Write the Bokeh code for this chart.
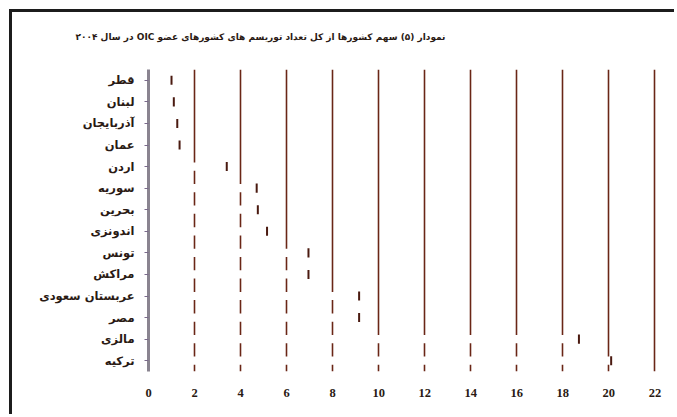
from bokeh.plotting import figure
from bokeh.models import ColumnDataSource, FixedTicker, LinearAxis
from bokeh.embed import file_html
from bokeh.resources import INLINE

countries = ["قطر", "لبنان", "آذربایجان", "عمان", "اردن", "سوریه", "بحرین",
             "اندونزی", "تونس", "مراکش", "عربستان سعودی", "مصر", "مالزی", "ترکیه"]
shares = [1.0, 1.1, 1.25, 1.35, 3.4, 4.7, 4.75, 5.15, 6.95, 6.95, 9.15, 9.15, 18.7, 20.1]
x_ticks = [0, 2, 4, 6, 8, 10, 12, 14, 16, 18, 20, 22]
title_text = "نمودار (۵) سهم کشورها از کل تعداد توریسم های کشورهای عضو OIC در سال ۲۰۰۴"

src = ColumnDataSource(dict(country=countries, share=shares))

p = figure(width=665, height=405, y_range=list(reversed(countries)), x_range=(0, 22.2),
           output_backend="svg", toolbar_location=None,
           min_border_left=136, min_border_right=18, min_border_top=57, min_border_bottom=46)
p.styles = {"margin-left": "9px", "margin-top": "9px",
            "border-top": "3px solid #1c1c1c", "border-left": "3px solid #1c1c1c"}

# a blank spacer axis above the frame, so the title sits near the top
spacer = LinearAxis(ticker=FixedTicker(ticks=[11], minor_ticks=[]), axis_line_color=None,
                    major_tick_out=28, major_tick_in=0, minor_tick_out=0, minor_tick_in=0,
                    major_tick_line_color=None, minor_tick_line_color=None,
                    major_label_standoff=11, major_label_text_font_size="1px",
                    major_label_overrides={11: ""})
p.add_layout(spacer, "above")

p.title.text = "\u202b" + title_text + "\u202c"
p.title.text_font = "DejaVu Sans"
p.title.text_font_size = "9px"
p.title.text_font_style = "bold"
p.title.text_color = "#2a1a14"
p.title.align = "left"
p.title.offset = -73
p.title.standoff = 0

p.outline_line_color = None
p.background_fill_color = "white"
p.border_fill_color = "white"

p.xgrid.ticker = FixedTicker(ticks=x_ticks)
p.xgrid.grid_line_color = "#6a2616"
p.xgrid.grid_line_width = 1.6
p.ygrid.grid_line_color = None

xa = p.below[0]
xa.ticker = FixedTicker(ticks=x_ticks)
xa.axis_line_color = None
xa.major_tick_line_color = None
xa.minor_tick_line_color = None
xa.major_label_standoff = 11
xa.major_label_text_font = "Liberation Serif"
xa.major_label_text_font_style = "bold"
xa.major_label_text_font_size = "12.5px"
xa.major_label_text_color = "#2a1a14"

p.yaxis.axis_line_color = "#8a8490"
p.yaxis.axis_line_width = 3
p.yaxis.major_tick_line_color = "#7a6a8a"
p.yaxis.major_tick_out = 4
p.yaxis.major_tick_in = 0
p.yaxis.major_label_standoff = 10
p.yaxis.major_label_text_font = "DejaVu Sans"
p.yaxis.major_label_text_font_style = "bold"
p.yaxis.major_label_text_font_size = "11.5px"
p.yaxis.major_label_text_color = "#2a1a14"

# white bars hiding the grid, with a dark edge at the bar end
p.hbar(y="country", right="share", left=0, height=0.38, source=src,
       fill_color="white", line_color=None)
p.rect(x="share", y="country", width=2, width_units="screen", height=0.42, source=src,
       fill_color="#4a1a10", line_color=None)

open("out.html", "w").write(file_html(p, INLINE))
